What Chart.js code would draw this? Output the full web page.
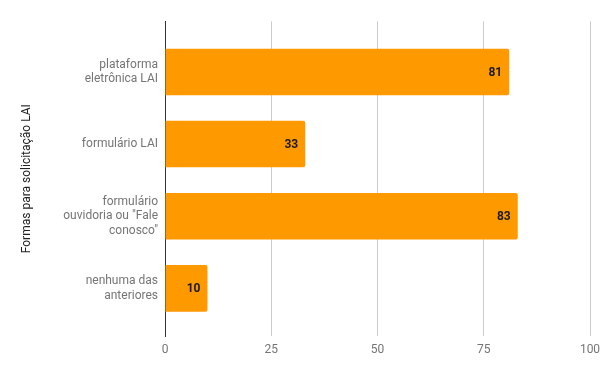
<!DOCTYPE html>
<html lang="pt">
<head>
  <meta charset="UTF-8">
  <title>Formas para solicitação LAI</title>
  <script src="https://cdn.jsdelivr.net/npm/chart.js"></script>
  <style>
    body { margin: 0; background: #fff; }
    .chart-container { width: 609px; height: 376px; }
  </style>
</head>
<body>
  <div class="chart-container">
    <canvas id="laiChart"></canvas>
  </div>
  <script>
    // categorias (linhas quebradas como no original)
    const categories = [
      ['plataforma', 'eletrônica LAI'],
      ['formulário LAI'],
      ['formulário', 'ouvidoria ou "Fale', 'conosco"'],
      ['nenhuma das', 'anteriores']
    ];
    const values = [81, 33, 83, 10];
    const xTicks = [0, 25, 50, 75, 100];

    // rótulos de valor dentro da ponta da barra
    const valueLabels = {
      id: 'valueLabels',
      afterDatasetsDraw(chart) {
        const ctx = chart.ctx;
        const meta = chart.getDatasetMeta(0);
        ctx.save();
        ctx.font = 'bold 12px Roboto';
        ctx.fillStyle = '#1a1a1a';
        ctx.textAlign = 'right';
        ctx.textBaseline = 'middle';
        meta.data.forEach((bar, i) => {
          ctx.fillText(values[i], bar.x - 7, bar.y + 1);
        });
        ctx.restore();
      }
    };

    const ctx = document.getElementById('laiChart').getContext('2d');
    new Chart(ctx, {
      type: 'bar',
      data: {
        datasets: [{
          data: values.map((v, i) => ({ x: v, y: i })),
          backgroundColor: '#ff9900',
          borderRadius: 2,
          borderSkipped: 'start',
          categoryPercentage: 1,
          barPercentage: 0.645
        }]
      },
      options: {
        indexAxis: 'y',
        responsive: true,
        maintainAspectRatio: false,
        animation: false,
        layout: { padding: { left: 0, right: 19, top: 16, bottom: 0 } },
        plugins: {
          legend: { display: false },
          tooltip: { enabled: false }
        },
        scales: {
          x: {
            type: 'linear',
            min: 0,
            max: 100,
            afterBuildTicks: scale => { scale.ticks = xTicks.map(v => ({ value: v })); },
            afterFit: scale => { scale.height = 40; },
            grid: {
              color: c => (c.tick && c.tick.value === 0 ? '#333' : '#cccccc'),
              drawTicks: false
            },
            border: { display: false },
            ticks: { color: '#757575', font: { family: 'Roboto', size: 12 }, padding: 7 }
          },
          y: {
            type: 'linear',
            reverse: true,
            offset: false,
            min: -0.7,
            max: 3.66,
            afterBuildTicks: scale => { scale.ticks = categories.map((_, i) => ({ value: i })); },
            afterFit: scale => { scale.width = 165; },
            grid: { display: false, drawTicks: false, offset: false },
            border: { display: true, color: '#333' },
            ticks: {
              color: '#757575',
              font: { family: 'Roboto', size: 12, lineHeight: 1.2 },
              padding: 7,
              callback: v => categories[v]
            },
            title: {
              display: true,
              text: 'Formas para solicitação LAI',
              color: '#222',
              font: { family: 'Roboto', size: 12 },
              padding: { top: 20, bottom: 0 }
            }
          }
        }
      },
      plugins: [valueLabels]
    });
  </script>
</body>
</html>
